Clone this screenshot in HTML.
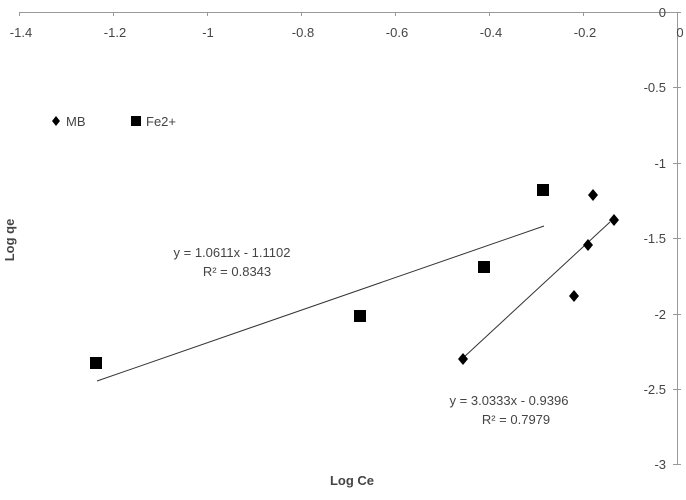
<!DOCTYPE html>
<html><head><style>body{margin:0;background:#fff}svg text{font-family:"Liberation Sans",sans-serif;fill:#444}</style></head>
<body><svg width="686" height="495" xmlns="http://www.w3.org/2000/svg">
<g stroke="#999" stroke-width="1">
<line x1="19" y1="12.5" x2="677" y2="12.5"/>
<line x1="677.5" y1="12" x2="677.5" y2="465"/>
<line x1="19.5" y1="12" x2="19.5" y2="16"/><line x1="113.5" y1="12" x2="113.5" y2="16"/><line x1="207.5" y1="12" x2="207.5" y2="16"/><line x1="301.5" y1="12" x2="301.5" y2="16"/><line x1="395.5" y1="12" x2="395.5" y2="16"/><line x1="489.5" y1="12" x2="489.5" y2="16"/><line x1="583.5" y1="12" x2="583.5" y2="16"/>
<line x1="673" y1="12.5" x2="681" y2="12.5"/><line x1="673" y1="87.5" x2="681" y2="87.5"/><line x1="673" y1="163.5" x2="681" y2="163.5"/><line x1="673" y1="238.5" x2="681" y2="238.5"/><line x1="673" y1="314.5" x2="681" y2="314.5"/><line x1="673" y1="389.5" x2="681" y2="389.5"/><line x1="673" y1="464.5" x2="681" y2="464.5"/>
</g>
<g font-size="13" text-anchor="middle">
<text x="21" y="37">-1.4</text><text x="115" y="37">-1.2</text><text x="208" y="37">-1</text><text x="303" y="37">-0.8</text><text x="397" y="37">-0.6</text><text x="491" y="37">-0.4</text><text x="585" y="37">-0.2</text><text x="680" y="37">0</text>
</g>
<g font-size="13" text-anchor="end">
<text x="666" y="17">0</text><text x="666" y="92">-0.5</text><text x="666" y="168">-1</text><text x="666" y="243">-1.5</text><text x="666" y="319">-2</text><text x="666" y="394">-2.5</text><text x="666" y="469">-3</text>
</g>
<text x="352" y="485" font-size="13" font-weight="bold" text-anchor="middle">Log Ce</text>
<text transform="translate(14,240) rotate(-90)" font-size="13" font-weight="bold" text-anchor="middle">Log qe</text>
<g stroke="#333" stroke-width="1"><line x1="97" y1="381" x2="544" y2="226"/><line x1="463" y1="358" x2="610" y2="222"/></g>
<g fill="#000">
<rect x="90" y="357" width="12" height="12"/><rect x="354" y="310" width="12" height="12"/><rect x="478" y="261" width="12" height="12"/><rect x="537" y="184" width="12" height="12"/>
<path d="M463 353 l5 6 -5 6 -5 -6z"/>
<path d="M574 290 l5 6 -5 6 -5 -6z"/><path d="M588 239 l5 6 -5 6 -5 -6z"/><path d="M593 189 l5 6 -5 6 -5 -6z"/><path d="M614 214 l5 6 -5 6 -5 -6z"/>
<path d="M56 116 l4 5 -4 5 -4 -5z"/><rect x="131" y="116" width="10" height="10"/>
</g>
<text x="66" y="126" font-size="13">MB</text><text x="146" y="126" font-size="13">Fe2+</text>
<g font-size="13" text-anchor="middle">
<text x="232" y="257">y = 1.0611x - 1.1102</text><text x="237" y="276">R² = 0.8343</text>
<text x="509" y="405">y = 3.0333x - 0.9396</text><text x="516" y="424">R² = 0.7979</text>
</g>
</svg></body></html>
